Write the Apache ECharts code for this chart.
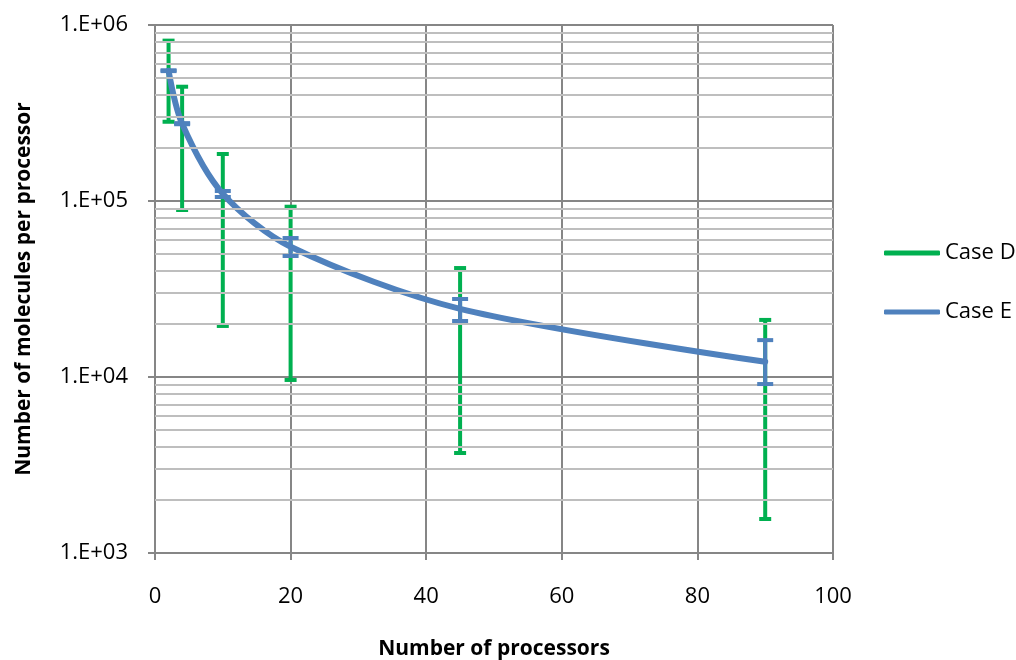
<!DOCTYPE html>
<html>
<head>
<meta charset="utf-8">
<script src="https://cdn.jsdelivr.net/npm/echarts@6/dist/echarts.min.js"></script>
<style>
  html, body { margin: 0; padding: 0; background: #fff; }
  #chart { width: 1016px; height: 660px; }
</style>
</head>
<body>
<div id="chart"></div>
<script>
// ---- Data ----
const processors = [2, 4, 10, 20, 45, 90];
const seriesNames = ['Case D', 'Case E'];
const caseD = [550000, 275000, 110000, 55000, 24400, 12200];
const caseDLow = [282000, 88900, 19500, 9620, 3700, 1560];
const caseDHigh = [815000, 446000, 185000, 92800, 41600, 21100];
const caseE = [550000, 275000, 110000, 55000, 24400, 12200];
const caseELow = [547000, 273000, 105400, 48700, 20800, 9120];
const caseEHigh = [553000, 277000, 114000, 61600, 27750, 16200];
const xTicks = [0, 20, 40, 60, 80, 100];
const yTickValues = [1000, 10000, 100000, 1000000];
const yTickLabels = ['1.E+03', '1.E+04', '1.E+05', '1.E+06'];
const yMinorGrid = [2000, 3000, 4000, 5000, 6000, 7000, 8000, 9000,
                    20000, 30000, 40000, 50000, 60000, 70000, 80000, 90000,
                    200000, 300000, 400000, 500000, 600000, 700000, 800000, 900000];
const xTitle = 'Number of processors';
const yTitle = 'Number of molecules per processor';

// ---- Styles ----
const GREEN = '#00B050';
const BLUE = '#4F81BD';
const MAJOR = '#868686';
const MINOR = '#BEBEBE';
const FONT = '"Open Sans", "Liberation Sans", sans-serif';

function errorBarRenderer(color, lineWidth, capHalf) {
  return function (params, api) {
    const x = api.value(0);
    const lo = api.coord([x, api.value(1)]);
    const hi = api.coord([x, api.value(2)]);
    const style = { stroke: color, lineWidth: lineWidth, fill: null };
    return {
      type: 'group',
      children: [
        { type: 'line', shape: { x1: lo[0], y1: lo[1], x2: hi[0], y2: hi[1] }, style: style },
        { type: 'line', shape: { x1: hi[0] - capHalf, y1: hi[1], x2: hi[0] + capHalf, y2: hi[1] }, style: style },
        { type: 'line', shape: { x1: lo[0] - capHalf, y1: lo[1], x2: lo[0] + capHalf, y2: lo[1] }, style: style }
      ]
    };
  };
}

const chart = echarts.init(document.getElementById('chart'), null, { renderer: 'canvas' });

const option = {
  animation: false,
  backgroundColor: '#fff',
  textStyle: { fontFamily: FONT, color: '#000' },
  grid: { left: 155, right: 183, top: 25, bottom: 107, containLabel: false, outerBoundsMode: 'none' },
  legend: {
    orient: 'vertical',
    left: 879,
    top: 237,
    itemWidth: 56,
    itemHeight: 5,
    itemGap: 37,
    icon: 'roundRect',
    data: seriesNames,
    textStyle: { fontFamily: FONT, fontSize: 22, color: '#000', lineHeight: 22 }
  },
  xAxis: {
    type: 'value',
    min: xTicks[0],
    max: xTicks[xTicks.length - 1],
    interval: 20,
    name: xTitle,
    nameLocation: 'middle',
    nameGap: 86,
    nameTextStyle: { fontFamily: FONT, fontSize: 21, fontWeight: 'bold', color: '#000' },
    axisLine: { show: true, lineStyle: { color: MAJOR, width: 2 } },
    axisTick: { show: true, inside: false, length: 7, lineStyle: { color: MAJOR, width: 2 } },
    axisLabel: { fontFamily: FONT, fontSize: 22, color: '#000', margin: 33 },
    splitLine: { show: true, lineStyle: { color: MAJOR, width: 2 } }
  },
  yAxis: {
    type: 'log',
    logBase: 10,
    min: yTickValues[0],
    max: yTickValues[yTickValues.length - 1],
    name: yTitle,
    nameLocation: 'middle',
    nameGap: 120,
    nameRotate: 90,
    nameTextStyle: { fontFamily: FONT, fontSize: 21, fontWeight: 'bold', color: '#000' },
    axisLine: { show: true, lineStyle: { color: MAJOR, width: 2 } },
    axisTick: { show: true, inside: false, length: 7, lineStyle: { color: MAJOR, width: 2 } },
    axisLabel: {
      fontFamily: FONT, fontSize: 22, color: '#000', margin: 27,
      formatter: function (v) {
        const i = yTickValues.findIndex(t => Math.abs(Math.log10(t) - Math.log10(v)) < 1e-6);
        return i >= 0 ? yTickLabels[i] : '';
      }
    },
    splitLine: { show: true, lineStyle: { color: MAJOR, width: 2 } }
  },
  series: [
    {
      name: 'Case D',
      type: 'line',
      color: GREEN,
      z: 2,
      smooth: 0.3,
      symbol: 'none',
      lineStyle: { color: GREEN, width: 4 },
      data: processors.map((x, i) => [x, caseD[i]]),
      markLine: {
        silent: true,
        symbol: ['none', 'none'],
        label: { show: false },
        animation: false,
        lineStyle: { color: MINOR, width: 1.8, type: 'solid' },
        emphasis: { disabled: true },
        data: yMinorGrid.map(v => ({ yAxis: v }))
      }
    },
    {
      name: 'Case D error',
      type: 'custom',
      z: 3,
      silent: true,
      renderItem: errorBarRenderer(GREEN, 4, 6),
      encode: { x: 0, y: [1, 2] },
      data: processors.map((x, i) => [x, caseDLow[i], caseDHigh[i]])
    },
    {
      name: 'Case E',
      type: 'line',
      color: BLUE,
      z: 4,
      smooth: 0.3,
      symbol: 'none',
      lineStyle: { color: BLUE, width: 6, cap: 'round', join: 'round' },
      data: processors.map((x, i) => [x, caseE[i]])
    },
    {
      name: 'Case E error',
      type: 'custom',
      z: 5,
      silent: true,
      renderItem: errorBarRenderer(BLUE, 4, 8),
      encode: { x: 0, y: [1, 2] },
      data: processors.map((x, i) => [x, caseELow[i], caseEHigh[i]])
    }
  ]
};

chart.setOption(option);
</script>
</body>
</html>
